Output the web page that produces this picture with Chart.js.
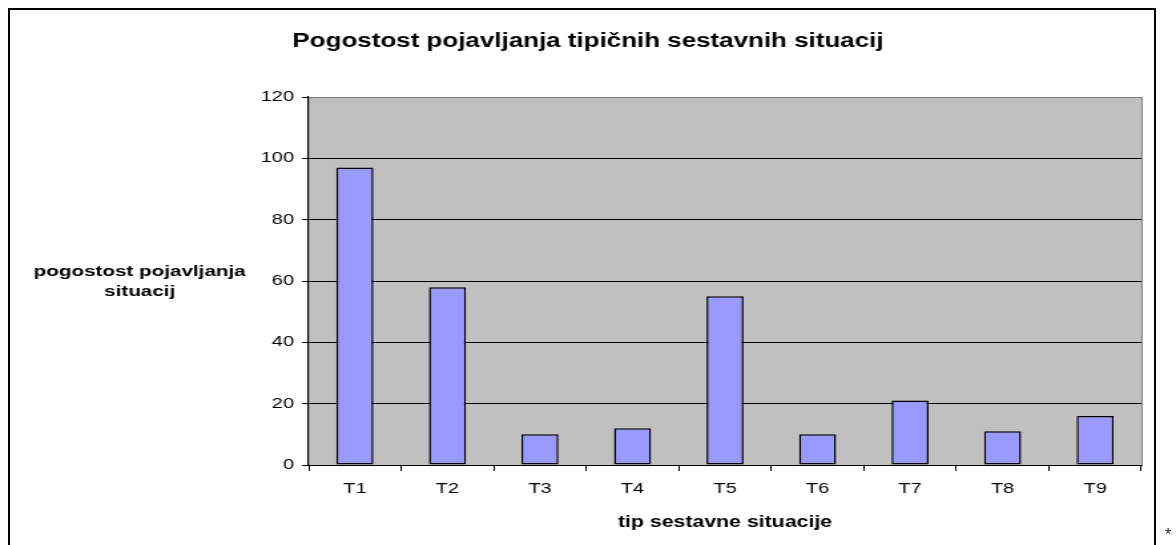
<!DOCTYPE html>
<html>
<head>
<meta charset="utf-8">
<script src="https://cdn.jsdelivr.net/npm/chart.js@4/dist/chart.umd.min.js"></script>
<style>
  html, body { margin:0; padding:0; background:#fff; overflow:hidden; }
  #wrap  { position:relative; width:1176px; height:545px; }
  #chart { position:absolute; left:0; top:0; }
  #frame { position:absolute; left:8px; top:8px; width:1144px; height:600px; border:2px solid #000; }
  #mark  { position:absolute; left:1165px; top:526px; font:16px 'Liberation Sans', Arial, sans-serif; color:#222; }
</style>
</head>
<body>
<div id="wrap">
  <div id="frame"></div>
  <!-- drawn narrow and widened by CSS, like the old spreadsheet export -->
  <canvas id="chart" width="884" height="545" style="width:1176px;height:545px"></canvas>
  <span id="mark">*</span>
</div>
<script>
/* ── DATA ──────────────────────────────── */
const CATEGORIES = ['T1','T2','T3','T4','T5','T6','T7','T8','T9'];
const COUNTS     = [97, 58, 10, 12, 55, 10, 21, 11, 16];
const Y_TICKS    = [0, 20, 40, 60, 80, 100, 120];

const TITLE   = 'Pogostost pojavljanja tipičnih sestavnih situacij';
const Y_TITLE = ['pogostost pojavljanja', 'situacij'];
const X_TITLE = 'tip sestavne situacije';

/* ── STYLE ─────────────────────────────── */
const FONT      = "'Liberation Sans', Arial, sans-serif";
const PLOT_BG   = '#C0C0C0';
const PLOT_EDGE = '#808080';
const BAR_FILL  = '#9999FF';

/* ── PLOT BACKGROUND + TITLES ──────────── */
const plotDecor = {
  id: 'plotDecor',
  beforeDraw(chart) {
    const { ctx, chartArea: a } = chart;
    ctx.save();
    ctx.fillStyle = PLOT_BG;
    ctx.fillRect(a.left, a.top, a.right - a.left, a.bottom - a.top);
    ctx.restore();
  },
  beforeDatasetsDraw(chart) {
    // grey right edge of the plot box (top edge comes from the 120 grid line)
    const { ctx, chartArea: a } = chart;
    ctx.save();
    ctx.strokeStyle = PLOT_EDGE;
    ctx.lineWidth = 1;
    ctx.beginPath();
    ctx.moveTo(Math.round(a.right) + 0.5, a.top);
    ctx.lineTo(Math.round(a.right) + 0.5, a.bottom);
    ctx.stroke();
    ctx.restore();
  },
  afterDraw(chart) {
    const { ctx, chartArea: a } = chart;
    ctx.save();
    ctx.fillStyle = '#000';
    ctx.textAlign = 'center';
    ctx.textBaseline = 'alphabetic';

    ctx.font = `bold 19.5px ${FONT}`;
    ctx.fillText(TITLE, chart.width / 2, 47);

    ctx.font = `bold 16px ${FONT}`;
    ctx.fillText(X_TITLE, (a.left + a.right) / 2, 527);

    ctx.font = `bold 15.5px ${FONT}`;
    Y_TITLE.forEach((line, i) => ctx.fillText(line, 105, 276 + i * 20));
    ctx.restore();
  }
};

/* ── CHART ─────────────────────────────── */
new Chart(document.getElementById('chart'), {
  type: 'bar',
  data: {
    labels: CATEGORIES,
    datasets: [{
      data: COUNTS,
      backgroundColor: BAR_FILL,
      borderColor: '#000',
      borderWidth: 1.5,
      borderSkipped: false,
      barPercentage: 0.4,
      categoryPercentage: 1,
    }]
  },
  options: {
    responsive: false,
    animation: false,
    layout: { padding: { left: 0, right: 26, top: 97, bottom: 0 } },
    plugins: {
      legend: { display: false },
      tooltip: { enabled: false },
      title: { display: false }
    },
    scales: {
      x: {
        grid: { offset: true, drawOnChartArea: false, color: '#000', tickLength: 6 },
        border: { color: '#000', width: 1 },
        ticks: { color: '#000', font: { family: FONT, size: 15 }, padding: 9, maxRotation: 0 },
        afterFit(scale) { scale.height = 80; }
      },
      y: {
        min: 0, max: 120,
        afterBuildTicks(scale) { scale.ticks = Y_TICKS.map(v => ({ value: v })); },
        afterFit(scale) { scale.width = 232; },
        grid: {
          color: c => (c.tick && c.tick.value === 120 ? PLOT_EDGE : '#000'),
          tickColor: '#000',
          tickLength: 5,
          lineWidth: 1
        },
        border: { color: '#000', width: 1.2 },
        ticks: { color: '#000', font: { family: FONT, size: 15 }, padding: 6 }
      }
    }
  },
  plugins: [plotDecor]
});
</script>
</body>
</html>
